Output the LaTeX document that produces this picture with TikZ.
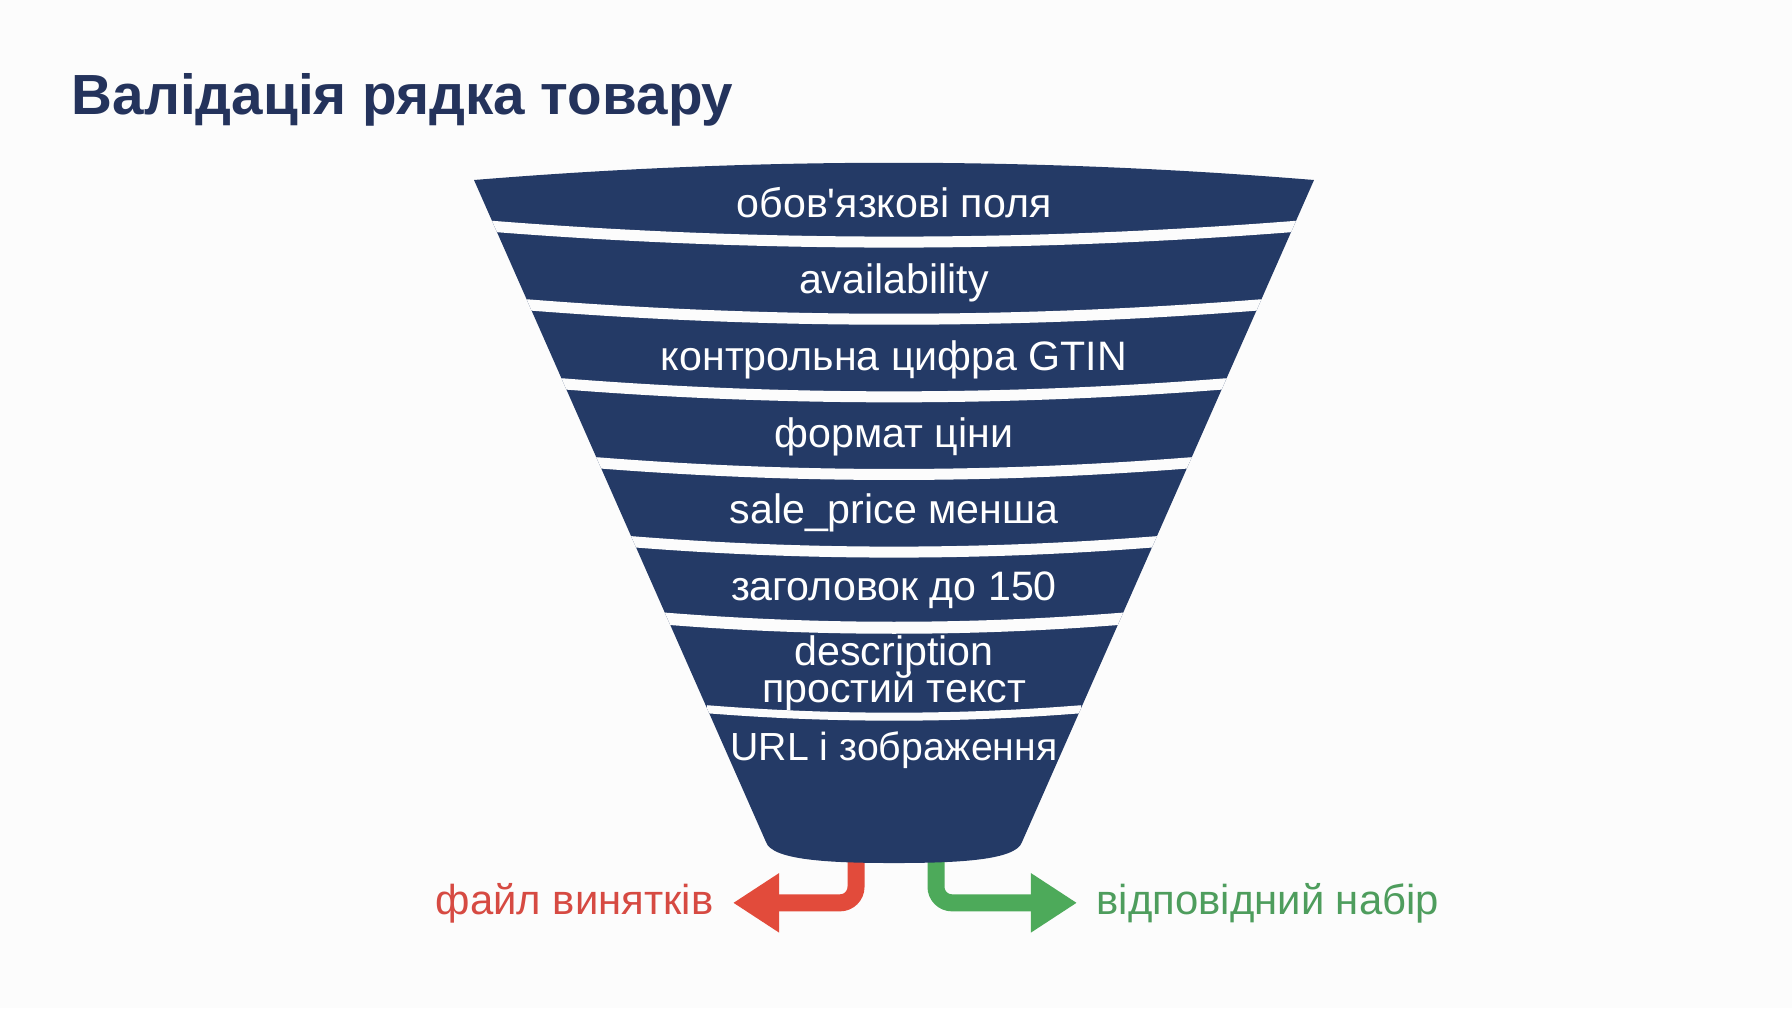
\documentclass[tikz,border=0pt]{standalone}
\usepackage{fontspec}
\setmainfont{Liberation Sans}
\usepackage{xcolor}
\usepackage{tikz}
\usetikzlibrary{arrows.meta}
\definecolor{paper}{HTML}{FCFCFC}
\definecolor{funnelblue}{HTML}{243A66}
\definecolor{titleblue}{HTML}{24335C}
\definecolor{failred}{HTML}{E24B3B}
\definecolor{failtext}{HTML}{D64A42}
\definecolor{okgreen}{HTML}{4DAA5A}
\definecolor{oktext}{HTML}{4E9D5D}

\begin{document}
\begin{tikzpicture}[x=0.01cm,y=-0.01cm,
    bandtext/.style={text=white,font=\fontsize{11.7}{14}\selectfont,anchor=base,inner sep=0pt},
    exitarrow/.style={line width=0.17cm,rounded corners=0.16cm,-{Triangle[width=0.56cm,length=0.46cm]}},
    exitlabel/.style={font=\fontsize{11.9}{14}\selectfont,inner xsep=0.19cm,inner ysep=0pt}]
    \useasboundingbox (0,0) rectangle (1792,1008);
    \fill[paper] (0,0) rectangle (1792,1008);
    \node [anchor=base west,inner sep=0pt,text=titleblue,font=\fontsize{16.1}{19}\selectfont\bfseries] (title) at (71,114) {Валідація рядка товару};
    % exits below the funnel
    \coordinate (failout) at (856,850);
    \coordinate (okout) at (936,850);
    \node [exitlabel,text=failtext,anchor=base east] (fail) at (733,914) {файл винятків};
    \node [exitlabel,text=oktext,anchor=base west] (ok) at (1077,914) {відповідний набір};
    \draw [exitarrow,failred] (failout) |- (fail.east);
    \draw [exitarrow,okgreen] (okout) |- (ok.west);
    % funnel body
    \fill [funnelblue] (474,180) .. controls (754,157) and (1034,157) .. (1314,180)
        -- (1022,842) .. controls (1016,860) and (960,863) .. (894,863)
        .. controls (828,863) and (772,860) .. (766,842) -- cycle;
    \begin{scope}
        \clip (474,180) -- (1314,180) -- (1022,842) -- (766,842) -- cycle;
        \foreach \g/\w in {226.5/11,305/11,384/11,463/11,542/11,619/12,709.5/8}{
            \pgfmathsetmacro\hw{420-0.447*(\g-180)}
            \pgfmathsetmacro\cy{\g+0.052*\hw}
            \draw [paper,line width=\w*0.01cm,line cap=rect] ({894-\hw},\g) .. controls ({894-\hw/3},\cy) and ({894+\hw/3},\cy) .. ({894+\hw},\g);
        }
    \end{scope}
    % checks
    \foreach \n/\y/\t in {1/217/обов\textquotesingle язкові поля,2/293/availability,3/370/контрольна цифра GTIN,4/447/формат ціни,5/523/sale\_price менша,6/600/заголовок до 150,7/665/description,8/702/простий текст}{
        \node [bandtext] (band\n) at (894,\y) {\t};
    }
    \node [bandtext,font=\fontsize{11.15}{14}\selectfont] (band9) at (894,760) {URL і зображення};
\end{tikzpicture}
\end{document}
